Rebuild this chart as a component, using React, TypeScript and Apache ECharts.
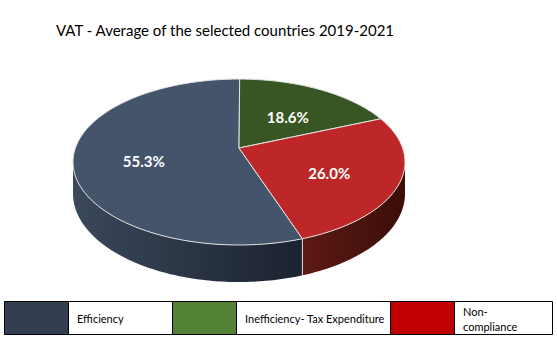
import React, { useEffect, useRef } from "react";
import * as echarts from "echarts";

// ---- data ----
const categories = ["Efficiency", "Inefficiency- Tax Expenditure", "Non-compliance"];
const legendLabels = ["Efficiency", "Inefficiency- Tax Expenditure", "Non-\ncompliance"];
const shares = [55.3, 18.6, 26.0];

// ---- styles ----
const topColors = ["#44546A", "#375623", "#BE2727"];
const sideColors = [
  ["#3B485B", "#1B2230"],
  ["#2A4119", "#1C2C10"],
  ["#5C1A13", "#3C0D08"],
];
const legendColors = ["#333F50", "#548235", "#C00000"];

// ---- geometry (layout) ----
const CX = 239;
const CY = 148;
const RX = 163.6;
const RY = 80.6;
const P = 0.169; // perspective factor
const H = 30.8; // thickness
const START_DEG = 161; // angle of first slice, clockwise from 12 o'clock
const LABEL_R = 0.58;

const LEGEND_X = 4;
const LEGEND_Y = 301;
const LEGEND_H = 33;
const SWATCH_W = 64;
const TEXT_CELL_W = [104, 154, 98];

function project(deg: number, r: number, drop: number): number[] {
  const t = (deg * Math.PI) / 180;
  const u = Math.sin(t);
  const v = Math.cos(t);
  const w = 1 + P * v * r;
  return [CX + (RX * u * r) / w, CY + (-RY * v * r + drop) / w];
}

function arc(a0: number, a1: number, drop: number): number[][] {
  const pts: number[][] = [];
  const n = Math.max(2, Math.ceil(Math.abs(a1 - a0)));
  for (let k = 0; k <= n; k++) {
    pts.push(project(a0 + ((a1 - a0) * k) / n, 1, drop));
  }
  return pts;
}

export default function App() {
  const ref = useRef<HTMLDivElement>(null);
  useEffect(() => {
    if (!ref.current) return;
    const chart = echarts.init(ref.current, undefined, { renderer: "svg" });
    const total = shares.reduce((a, b) => a + b, 0);
    const visA = 90 + (Math.asin(P) * 180) / Math.PI;
    const visB = 360 - visA;

    const renderItem = (params: any, api: any) => {
      const i = params.dataIndex;
      let acc = 0;
      for (let j = 0; j < i; j++) acc += shares[j];
      const val = api.value(0);
      const a0 = START_DEG + (acc / total) * 360;
      const a1 = a0 + (val / total) * 360;
      const children: any[] = [];

      // side walls
      for (let k = -1; k <= 2; k++) {
        const s0 = Math.max(a0, visA + k * 360);
        const s1 = Math.min(a1, visB + k * 360);
        if (s1 > s0) {
          const pts = arc(s0, s1, 0).concat(arc(s1, s0, H));
          children.push({
            type: "polygon",
            shape: { points: pts },
            style: {
              fill: new echarts.graphic.LinearGradient(0, 0, 1, 0, [
                { offset: 0, color: sideColors[i][0] },
                { offset: 1, color: sideColors[i][1] },
              ]),
              stroke: null,
            },
            z2: 1,
          });
        }
        const b = a0 - k * 360;
        if (b > visA && b < visB) {
          children.push({
            type: "line",
            shape: {
              x1: project(a0, 1, 0)[0],
              y1: project(a0, 1, 0)[1],
              x2: project(a0, 1, H)[0],
              y2: project(a0, 1, H)[1],
            },
            style: { stroke: "#d9d9d9", lineWidth: 1 },
            z2: 2,
          });
        }
      }

      // top face
      const topPts = [project(0, 0, 0)].concat(arc(a0, a1, 0));
      children.push({
        type: "polygon",
        shape: { points: topPts },
        style: { fill: topColors[i], stroke: "#e4e4e4", lineWidth: 1 },
        z2: 3,
      });

      // label
      const mid = (a0 + a1) / 2;
      const lp = project(mid, LABEL_R, 0);
      children.push({
        type: "text",
        x: lp[0],
        y: lp[1] + 5,
        style: {
          text: val.toFixed(1) + "%",
          fill: "#ffffff",
          font: "bold 15px Lato",
          align: "center",
          verticalAlign: "middle",
        },
        z2: 10,
      });
      return { type: "group", children };
    };

    // legend table
    const legendEls: any[] = [];
    let x = LEGEND_X;
    categories.forEach((c, i) => {
      legendEls.push({
        type: "rect",
        shape: { x: x + 0.5, y: LEGEND_Y + 0.5, width: SWATCH_W, height: LEGEND_H },
        style: { fill: legendColors[i], stroke: "#000", lineWidth: 1 },
      });
      x += SWATCH_W;
      legendEls.push({
        type: "rect",
        shape: { x: x + 0.5, y: LEGEND_Y + 0.5, width: TEXT_CELL_W[i], height: LEGEND_H },
        style: { fill: "#fff", stroke: "#000", lineWidth: 1 },
      });
      legendEls.push({
        type: "text",
        x: x + 9,
        y: LEGEND_Y + LEGEND_H / 2 + 1,
        style: {
          text: legendLabels[i],
          fill: "#000",
          font: "11px Lato",
          lineHeight: 15,
          verticalAlign: "middle",
          align: "left",
        },
      });
      x += TEXT_CELL_W[i];
    });

    chart.setOption({
      animation: false,
      backgroundColor: "#ffffff",
      title: {
        text: "VAT - Average of the selected countries 2019-2021",
        left: 51,
        top: 17,
        textStyle: { fontFamily: "Lato", fontSize: 15, fontWeight: "normal", color: "#000" },
      },
      graphic: legendEls,
      series: [
        {
          type: "custom",
          coordinateSystem: "none",
          renderItem,
          data: shares.map((s, i) => ({ name: categories[i], value: [s] })),
        },
      ],
    });
    return () => chart.dispose();
  }, []);
  return (
    <div
      ref={ref}
      style={{ position: "fixed", left: 0, top: 0, width: 557, height: 360 }}
    />
  );
}
